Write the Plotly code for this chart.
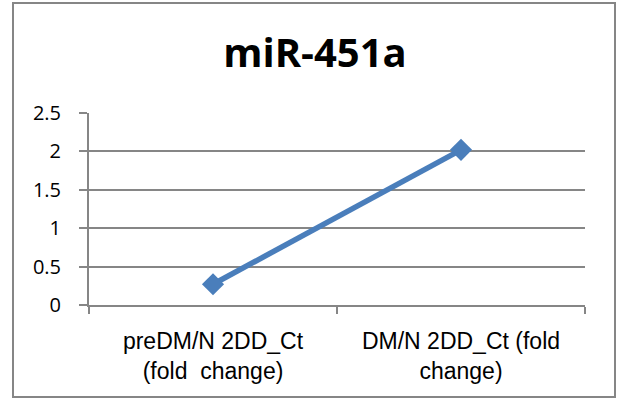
import plotly.graph_objects as go

categories = ["preDM/N 2DD_Ct<br>(fold  change)", "DM/N 2DD_Ct (fold<br>change)"]
values = [0.27, 2.02]
y_ticks = [0, 0.5, 1, 1.5, 2, 2.5]
y_tick_labels = ["0", "0.5", "1", "1.5", "2", "2.5"]
title_text = "miR-451a"

fig = go.Figure()
fig.add_trace(go.Scatter(
    x=categories, y=values, mode="lines+markers",
    line=dict(color="#4a7ebb", width=5.5),
    marker=dict(symbol="diamond", size=17, color="#4a7ebb"),
    showlegend=False, cliponaxis=False,
))

grid = "#868686"
fig.update_layout(
    width=620, height=400,
    paper_bgcolor="white", plot_bgcolor="white",
    margin=dict(l=89, r=35, t=113, b=95, autoexpand=False),
    title=dict(text=f"<b>{title_text}</b>", x=315/620, xanchor="center", xref="container",
               y=1 - 53/400, yanchor="middle",
               font=dict(family="Open Sans", size=40, color="black")),
    xaxis=dict(
        range=[-0.5, 1.5], automargin=False,
        showline=True, linecolor=grid, linewidth=2,
        ticks="outside", tickson="boundaries", ticklen=7, tickcolor=grid, tickwidth=2,
        showgrid=False,
        tickfont=dict(family="Liberation Sans", size=23, color="black"),
        ticklabelstandoff=14,
    ),
    yaxis=dict(
        range=[0, 2.5], tickvals=y_ticks, ticktext=y_tick_labels, automargin=False,
        showline=True, linecolor=grid, linewidth=2,
        ticks="outside", ticklen=8, tickcolor=grid, tickwidth=2,
        showgrid=True, gridcolor=grid, gridwidth=2, zeroline=False,
        tickfont=dict(family="Open Sans", size=20, color="black"),
        ticklabelstandoff=14,
    ),
)

W, H = 496, 192
fig.add_shape(type="rect", xref="paper", yref="paper",
              x0=(13-89)/W, x1=(615-89)/W, y0=(305-397)/H, y1=(305-3)/H,
              line=dict(color=grid, width=2), fillcolor="rgba(0,0,0,0)", layer="below")

fig.write_html("out.html", config={"displayModeBar": False},
               post_script="document.body.style.margin='0';document.body.style.overflow='hidden';")
